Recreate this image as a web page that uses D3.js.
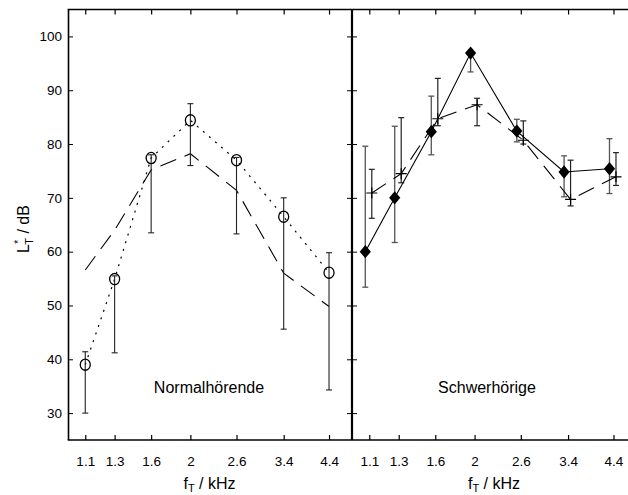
<!DOCTYPE html>
<html>
<head>
<meta charset="utf-8">
<script src="https://cdn.jsdelivr.net/npm/d3@7"></script>
<style>
  html, body { margin: 0; padding: 0; background: #fff; }
  svg { display: block; }
  text { font-family: "Liberation Sans", Arial, sans-serif; fill: #000; }
</style>
</head>
<body>
<svg id="chart" width="628" height="495"></svg>
<script>
// ---- data ----
const freqs = [1.1, 1.3, 1.6, 2, 2.6, 3.4, 4.4];
const freqTickLabels = ["1.1", "1.3", "1.6", "2", "2.6", "3.4", "4.4"];
const yTickValues = [30, 40, 50, 60, 70, 80, 90, 100];

// Normalhörende
const nhCircle   = [39.0, 54.9, 77.4, 84.4, 77.0, 66.5, 56.1];
const nhCircleLo = [30.0, 41.2, 63.5, 76.0, 63.3, 45.6, 34.3];
const nhCircleHi = [41.4, 55.5, 78.0, 87.5, 77.5, 70.0, 59.8];
const nhDashed   = [56.6, 64.0, 75.2, 78.2, 71.4, 56.0, 49.8];

// Schwerhörige
const shDiamond   = [60.0, 70.0, 82.3, 96.9, 82.4, 74.8, 75.4];
const shDiamondLo = [53.4, 61.7, 78.0, 93.4, 80.4, 70.2, 70.8];
const shDiamondHi = [79.6, 83.3, 88.9, 97.0, 84.6, 77.8, 81.0];
const shPlus      = [70.9, 74.5, 84.7, 87.3, 80.7, 69.7, 73.9];
const shPlusLo    = [66.2, 72.8, 83.4, 83.4, 80.0, 68.5, 72.3];
const shPlusHi    = [75.3, 84.9, 92.2, 88.5, 84.3, 77.0, 78.4];

// ---- layout ----
const svg = d3.select("#chart");
const yTop = 9.5, yBottom = 440;
const y = d3.scaleLinear().domain([25, 105]).range([yBottom, yTop]);

const panels = [
  { x0: 68.5, x1: 351.5, label: "Normalhörende", labelX: 209, axisX: 209.5 },
  { x0: 352.5, x1: 636, label: "Schwerhörige", labelX: 487, axisX: 494 }
];
panels.forEach(p => {
  p.x = d3.scaleLog().domain([1, 5]).range([p.x0, p.x1]);
});

const font = '"Liberation Sans", Arial, sans-serif';

function drawFrameTicks(p) {
  const g = svg.append("g");
  // bottom ticks (inward)
  g.append("g").attr("transform", `translate(0,${yBottom})`)
    .call(d3.axisTop(p.x).tickValues(freqs).tickSize(5).tickFormat(""))
    .call(s => s.select(".domain").remove())
    .selectAll("line").attr("stroke", "#000").attr("stroke-width", 1.2);
  // top ticks (inward)
  g.append("g").attr("transform", `translate(0,${yTop})`)
    .call(d3.axisBottom(p.x).tickValues(freqs).tickSize(5).tickFormat(""))
    .call(s => s.select(".domain").remove())
    .selectAll("line").attr("stroke", "#000").attr("stroke-width", 1.2);
  // left ticks (inward)
  g.append("g").attr("transform", `translate(${p.x0},0)`)
    .call(d3.axisRight(y).tickValues(yTickValues).tickSize(4.5).tickFormat(""))
    .call(s => s.select(".domain").remove())
    .selectAll("line").attr("stroke", "#000").attr("stroke-width", 1);
  // right ticks (inward)
  g.append("g").attr("transform", `translate(${p.x1},0)`)
    .call(d3.axisLeft(y).tickValues(yTickValues).tickSize(4.5).tickFormat(""))
    .call(s => s.select(".domain").remove())
    .selectAll("line").attr("stroke", "#000").attr("stroke-width", 1);
  // tick labels
  const tl = g.append("g").attr("transform", `translate(0,${yBottom})`)
    .call(d3.axisBottom(p.x).tickValues(freqs).tickSize(0).tickPadding(0)
      .tickFormat((d, i) => freqTickLabels[i]))
    .call(s => s.select(".domain").remove());
  tl.attr("font-size", 13.5).attr("font-family", font);
  tl.selectAll("text")
      .attr("y", 26).attr("dy", 0)
      .attr("font-size", 13.5).attr("font-family", font).attr("fill", "#000");
  // x title
  const t = svg.append("text")
    .attr("x", p.axisX).attr("y", 488.5)
    .attr("text-anchor", "middle").attr("font-size", 16);
  t.append("tspan").text("f");
  t.append("tspan").attr("font-size", 11).attr("dy", 3.5).text("T");
  t.append("tspan").attr("dy", -3.5).text(" / kHz");
  // panel label
  svg.append("text").attr("x", p.labelX).attr("y", 392.5)
    .attr("text-anchor", "middle").attr("font-size", 16).text(p.label);
}
panels.forEach(drawFrameTicks);

// y tick labels (left only)
const yl = svg.append("g").attr("transform", `translate(${panels[0].x0},0)`)
  .call(d3.axisLeft(y).tickValues(yTickValues).tickSize(0).tickPadding(6.5))
  .call(s => s.select(".domain").remove());
yl.attr("font-size", 13.5).attr("font-family", font);
yl.selectAll("text").attr("font-size", 13.5).attr("font-family", font).attr("fill", "#000");

// y title
const yt = svg.append("text")
  .attr("transform", "translate(28.5,229) rotate(-90)")
  .attr("text-anchor", "middle").attr("font-size", 16);
yt.append("tspan").text("L");
yt.append("tspan").attr("font-size", 11).attr("dy", -7).text("*");
yt.append("tspan").attr("font-size", 11).attr("dx", -5).attr("dy", 11).text("T");
yt.append("tspan").attr("dy", -4).text(" / dB");

// frame lines
svg.append("line").attr("x1", panels[0].x0).attr("x2", panels[0].x0)
  .attr("y1", yTop).attr("y2", yBottom).attr("stroke", "#000").attr("stroke-width", 1.6);
svg.append("line").attr("x1", 352).attr("x2", 352)
  .attr("y1", yTop).attr("y2", yBottom).attr("stroke", "#000").attr("stroke-width", 2.2);
svg.append("line").attr("x1", panels[0].x0 - 0.8).attr("x2", 628)
  .attr("y1", yTop).attr("y2", yTop).attr("stroke", "#000").attr("stroke-width", 1.5);
svg.append("line").attr("x1", panels[0].x0 - 0.8).attr("x2", 628)
  .attr("y1", yBottom).attr("y2", yBottom).attr("stroke", "#000").attr("stroke-width", 1.6);

// ---- marks ----
function errorBars(p, vals, lo, hi, dx, color, w) {
  const g = svg.append("g").attr("stroke", color).attr("stroke-width", w).attr("fill", "none");
  freqs.forEach((f, i) => {
    const cx = p.x(f) + dx;
    g.append("line").attr("x1", cx).attr("x2", cx).attr("y1", y(lo[i])).attr("y2", y(hi[i]));
    g.append("line").attr("x1", cx - 3).attr("x2", cx + 3).attr("y1", y(lo[i])).attr("y2", y(lo[i]));
    g.append("line").attr("x1", cx - 3).attr("x2", cx + 3).attr("y1", y(hi[i])).attr("y2", y(hi[i]));
  });
}
function seriesLine(p, vals, dx, dash, w) {
  const line = d3.line().x((d, i) => p.x(freqs[i]) + dx).y(d => y(d));
  svg.append("path").datum(vals).attr("d", line)
    .attr("fill", "none").attr("stroke", "#000").attr("stroke-width", w)
    .attr("stroke-dasharray", dash);
}

const L = panels[0], R = panels[1];

// Left panel
seriesLine(L, nhDashed, 0, "17,9", 1.1);
seriesLine(L, nhCircle, 0, "2,6", 1.2);
errorBars(L, nhCircle, nhCircleLo, nhCircleHi, 0, "#222", 1.1);
svg.append("g").selectAll("ellipse").data(nhCircle).join("ellipse")
  .attr("cx", (d, i) => L.x(freqs[i])).attr("cy", d => y(d))
  .attr("rx", 5).attr("ry", 5.6)
  .attr("fill", "none").attr("stroke", "#000").attr("stroke-width", 1.3);

// Right panel
const dD = -4, dP = 2.5;
errorBars(R, shDiamond, shDiamondLo, shDiamondHi, dD, "#555", 1.3);
errorBars(R, shPlus, shPlusLo, shPlusHi, dP, "#222", 1.2);
seriesLine(R, shPlus, dP, "17,9", 1.1);
seriesLine(R, shDiamond, dD, null, 1.1);
// plus markers
svg.append("g").attr("stroke", "#000").attr("stroke-width", 1.2)
  .selectAll("path").data(shPlus).join("path")
  .attr("d", (d, i) => {
    const cx = R.x(freqs[i]) + dP, cy = y(d);
    return `M${cx - 5.5},${cy}H${cx + 5.5}M${cx},${cy - 5.5}V${cy + 5.5}`;
  });
// diamond markers
svg.append("g").selectAll("path.dia").data(shDiamond).join("path")
  .attr("class", "dia")
  .attr("d", (d, i) => {
    const cx = R.x(freqs[i]) + dD, cy = y(d);
    return `M${cx},${cy - 6.7}L${cx + 5.6},${cy}L${cx},${cy + 6.7}L${cx - 5.6},${cy}Z`;
  })
  .attr("fill", "#000");
</script>
</body>
</html>
